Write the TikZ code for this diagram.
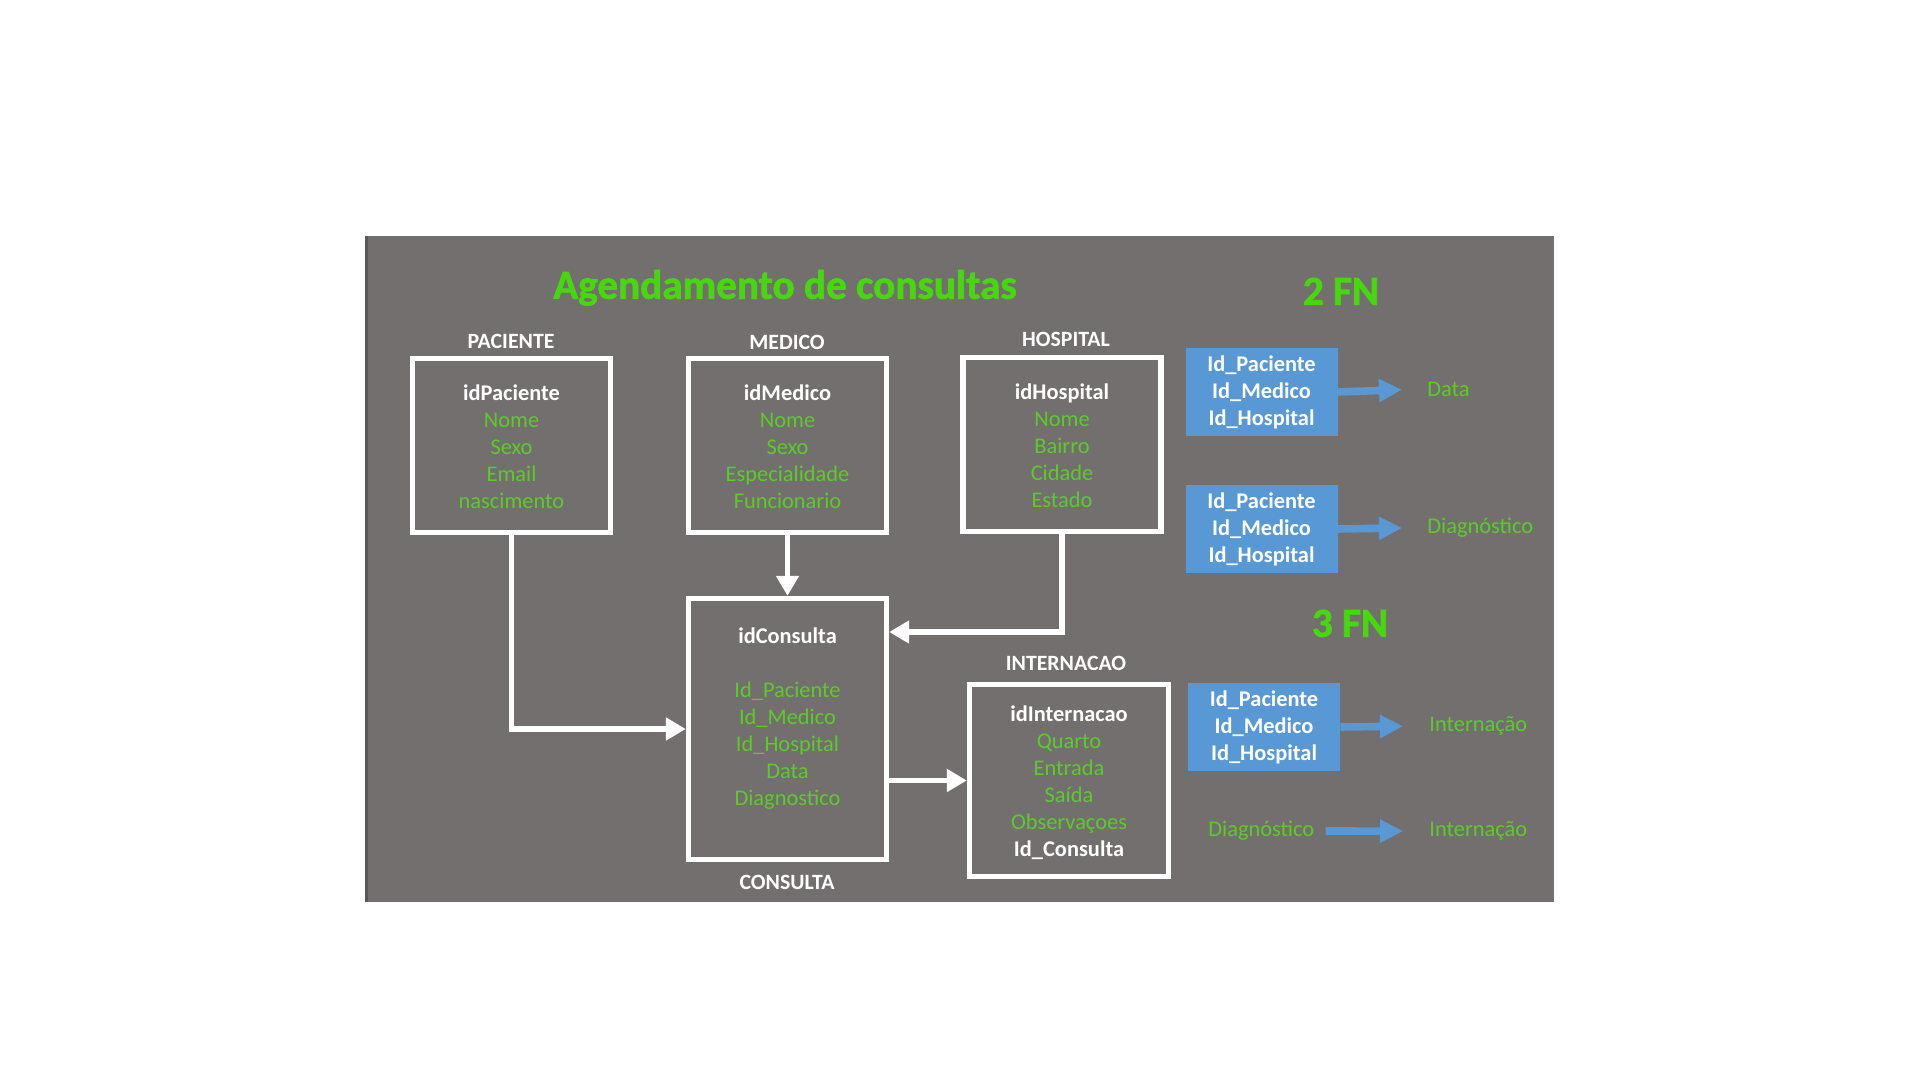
\documentclass[tikz,border=0pt]{standalone}
\usepackage{fontspec}
\setmainfont{Carlito}
\newfontfamily\heavyfont[BoldFeatures={FakeBold=1.6}]{Carlito}
\usetikzlibrary{arrows.meta}
\definecolor{bg}{RGB}{116,111,111}
\definecolor{grn}{RGB}{90,204,40}
\definecolor{tgrn}{RGB}{70,215,15}
\definecolor{blu}{RGB}{88,152,212}
\begin{document}
\begin{tikzpicture}[x=0.5pt,y=-0.5pt,
 box/.style={draw=white, line width=2.7pt, minimum width=99pt, minimum height=87pt, inner sep=0pt},
 ttl/.style={font=\fontsize{10.9}{13}\selectfont\bfseries, text=white, anchor=mid, inner sep=0pt},
 body/.style={align=center, font=\fontsize{11.2}{13.5}\selectfont, text=grn, inner sep=0pt, anchor=north},
 bbox/.style={fill=blu, minimum width=76pt, minimum height=44pt, align=center, text=white, font=\fontsize{11.2}{13.5}\selectfont\bfseries, inner sep=0pt},
 wire/.style={draw=white, line width=2.8pt, -{Triangle[length=10pt,width=11pt]}},
 barrow/.style={draw=blu, line width=3.8pt, -{Triangle[length=11.5pt,width=11pt]}},
 lbl/.style={text=grn, font=\fontsize{11.2}{13.5}\selectfont, anchor=mid west, inner sep=0pt},
 big/.style={text=tgrn, font=\heavyfont\fontsize{20.6}{24}\selectfont\bfseries, anchor=mid, inner sep=0pt}
]
\useasboundingbox (0,0) rectangle (1920,1080);
\fill[white] (0,0) rectangle (1920,1080);
\fill[bg] (365,236) rectangle (1554,902);
\draw[line width=1.5pt, black!65] (366,236) -- (366,902);
\draw[line width=1.2pt, black!55] (1553,236) -- (1553,902);

% titles
\node[big] (title) at (785,294) {Agendamento de consultas};
\node[big] (fn2) at (1341,300) {2 FN};
\node[big] (fn3) at (1350,632) {3 FN};

% entity boxes
\node[box] (pac) at (511.5,445.5) {};
\node[box] (med) at (787.5,445.5) {};
\node[box] (hos) at (1062,444.5) {};
\node[box, minimum height=130.5pt] (con) at (787.5,729) {};
\node[box, minimum width=99.5pt, minimum height=96pt] (intr) at (1069,780.5) {};

% box titles
\node[ttl] (pacL) at (511,344) {PACIENTE};
\node[ttl] (medL) at (787,345) {MEDICO};
\node[ttl] (hosL) at (1066,342) {HOSPITAL};
\node[ttl] (conL) at (787,885) {CONSULTA};
\node[ttl] (intL) at (1066,666) {INTERNACAO};

% box contents
\node[body] (pacT) at (511.5,384) {\textcolor{white}{\bfseries idPaciente}\\Nome\\Sexo\\Email\\nascimento};
\node[body] (medT) at (787.5,384) {\textcolor{white}{\bfseries idMedico}\\Nome\\Sexo\\Especialidade\\Funcionario};
\node[body] (hosT) at (1062,383) {\textcolor{white}{\bfseries idHospital}\\Nome\\Bairro\\Cidade\\Estado};
\node[body] (conT) at (787.5,627) {\textcolor{white}{\bfseries idConsulta}\\[13.5pt]Id\_Paciente\\Id\_Medico\\Id\_Hospital\\Data\\Diagnostico};
\node[body] (intT) at (1069,705) {\textcolor{white}{\bfseries idInternacao}\\Quarto\\Entrada\\Saída\\Observaçoes\\\textcolor{white}{\bfseries Id\_Consulta}};

% connectors
\draw[wire] (pac.south) |- (con.west);
\draw[wire] (med.south) -- (con.north);
\draw[wire] (hos.south) |- ([yshift=48.5pt]con.east);
\draw[wire] (con.east |- intr.west) -- (intr.west);

% 2 FN
\node[bbox] (b1) at (1261.5,392) {Id\_Paciente\\Id\_Medico\\Id\_Hospital};
\node[bbox] (b2) at (1261.5,529) {Id\_Paciente\\Id\_Medico\\Id\_Hospital};
\node[lbl] (data) at (1427,392) {Data};
\node[lbl] (diag) at (1427,529) {Diagnóstico};
\draw[barrow] (b1.east) -- ([xshift=-12.5pt]data.west);
\draw[barrow] (b2.east) -- ([xshift=-12.5pt]diag.west);

% 3 FN
\node[bbox] (b3) at (1264,727) {Id\_Paciente\\Id\_Medico\\Id\_Hospital};
\node[lbl] (int1) at (1429,727) {Internação};
\draw[barrow] (b3.east) -- ([xshift=-13pt]int1.west);
\node[lbl] (diag2) at (1208,832) {Diagnóstico};
\node[lbl] (int2) at (1429,832) {Internação};
\draw[barrow] ([xshift=5.5pt]diag2.east) -- ([xshift=-13pt]int2.west);
\end{tikzpicture}
\end{document}
